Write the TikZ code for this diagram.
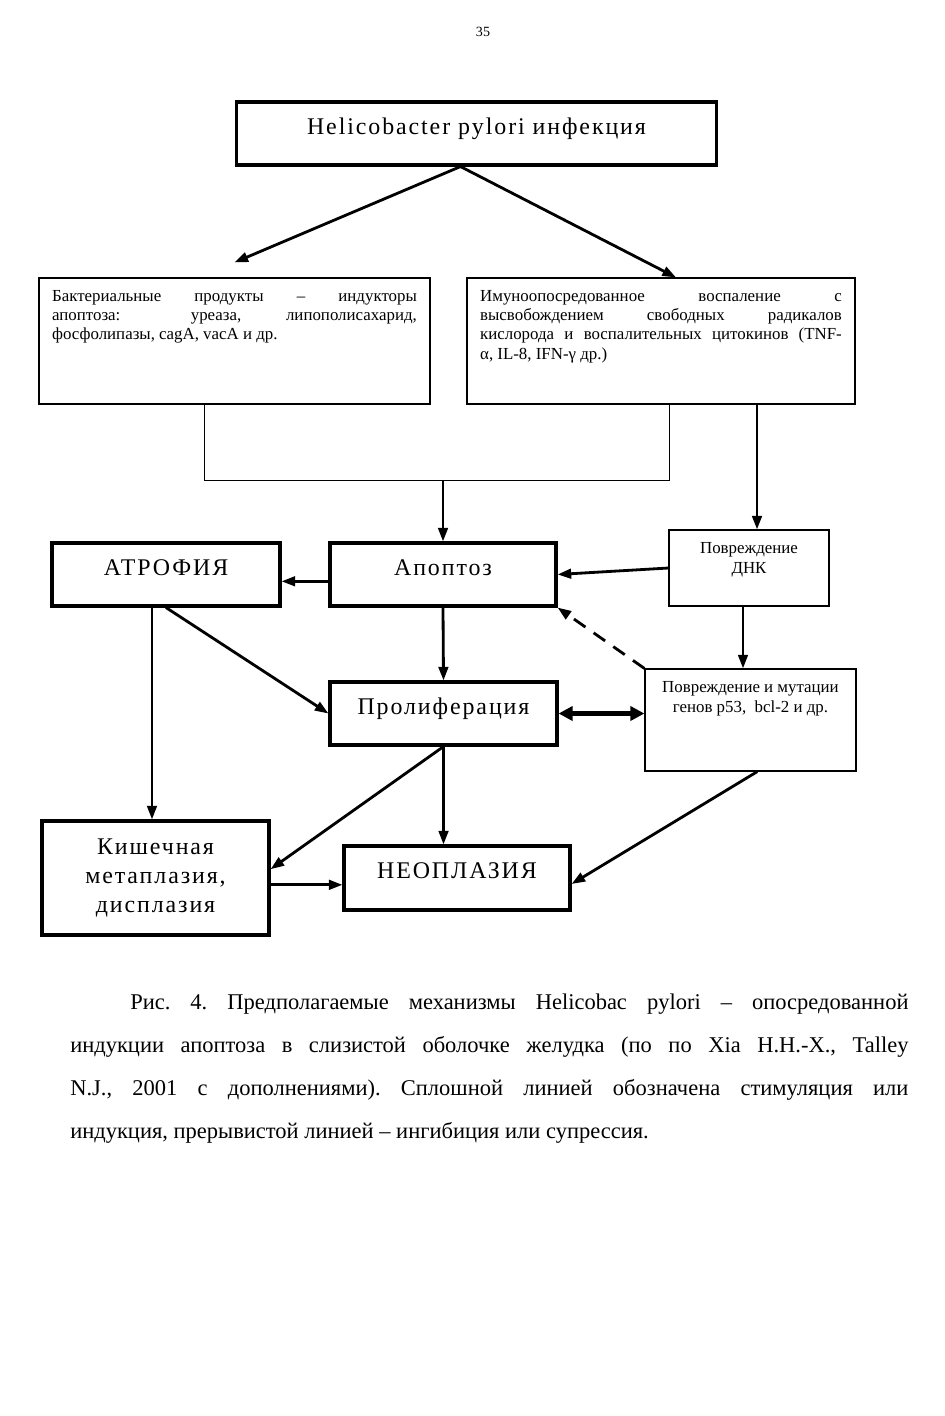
\documentclass[tikz,border=0pt]{standalone}
\usepackage{fontspec}
\setmainfont{Liberation Serif}
\newfontfamily\spacedfont[LetterSpace=8]{Liberation Serif}
\usetikzlibrary{arrows.meta}

\begin{document}
\begin{tikzpicture}[x=0.025cm, y=-0.025cm,
    thickbox/.style = {draw, line width=2.2pt, inner sep=0pt, align=center, font=\spacedfont\fontsize{17}{20.5}\selectfont},
    raised/.style = {text depth=0.35cm},
    thinbox/.style = {draw, line width=0.8pt, inner xsep=0.33cm, inner ysep=0.3cm, font=\fontsize{12}{13.8}\selectfont},
    smallbox/.style = {draw, line width=0.8pt, inner xsep=0pt, inner ysep=0.3cm, font=\fontsize{12}{14.5}\selectfont},
    arr/.style = {line width=2pt, -{Triangle[length=0.34cm, width=0.24cm]}}]
    \useasboundingbox (0,0) rectangle (945,1416);
    \node[font=\fontsize{10}{12}\selectfont] (page) at (483,32) {35};

    % boxes
    \node[thickbox, raised, minimum width=11.975cm, minimum height=1.575cm] (inf) at (476.5,133.5) {Helicobacter pylori инфекция};
    \node[thinbox] (bact) at (234.5,341) {\parbox[t][2.55cm][t]{9.115cm}{Бактериальные продукты – индукторы\linebreak апоптоза: уреаза, липополисахарид,\linebreak фосфолипазы, cagA, vacA и др.}};
    \node[thinbox] (imm) at (661,341) {\parbox[t][2.55cm][t]{9.04cm}{Имуноопосредованное воспаление с\linebreak высвобождением свободных радикалов\linebreak кислорода и воспалительных цитокинов (TNF-\linebreak α, IL-8, IFN-γ др.)}};
    \node[thickbox, raised, minimum width=5.7cm, minimum height=1.575cm] (atr) at (166,574.5) {АТРОФИЯ};
    \node[thickbox, raised, minimum width=5.65cm, minimum height=1.575cm] (apo) at (443,574.5) {Апоптоз};
    \node[smallbox] (dna) at (749,568) {\parbox[t][1.3cm][t]{4cm}{\centering Повреждение\\ДНК}};
    \node[smallbox] (mut) at (750.5,720) {\parbox[t][1.95cm][t]{5.275cm}{\centering Повреждение и мутации\\генов p53,~ bcl-2 и др.}};
    \node[thickbox, raised, minimum width=5.675cm, minimum height=1.575cm] (pro) at (443.5,713.5) {Пролиферация};
    \node[thickbox, minimum width=5.675cm, minimum height=2.85cm] (kish) at (155.5,878) {Кишечная\\метаплазия,\\дисплазия};
    \node[thickbox, raised, minimum width=5.65cm, minimum height=1.6cm] (neo) at (457,878) {НЕОПЛАЗИЯ};

    % connectors
    \coordinate (jl) at (204,480);
    \coordinate (jr) at (669,480);
    \coordinate (jm) at (443,480);
    \draw[arr] ([xshift=-0.4cm]inf.south) -- ([yshift=0.375cm]bact.north);
    \draw[arr] ([xshift=-0.4cm]inf.south) -- ([xshift=0.375cm]imm.north);
    \draw[line width=0.7pt] (bact.south -| jl) -- (jl) -- (jr) -- (imm.south -| jr);
    \draw[arr] (jm) -- (apo.north);
    \draw[arr] ([xshift=2.4cm]imm.south) -- ([xshift=2.4cm]imm.south |- dna.north);
    \draw[arr] (dna.west) -- (apo.east);
    \draw[arr] ([yshift=-0.17cm]apo.west) -- ([yshift=-0.17cm]apo.west -| atr.east);
    \draw[arr] ([xshift=-0.15cm]dna.south) -- ([xshift=-0.15cm]dna.south |- mut.north);
    \draw[arr, dash pattern=on 0.35cm off 0.25cm] (mut.north west) -- (apo.south east);
    \draw[arr] (apo.south) -- (pro.north);
    \draw[arr] (atr.south) -- (pro.west);
    \draw[arr] ([xshift=-0.35cm]atr.south) -- ([xshift=-0.35cm]atr.south |- kish.north);
    \draw[line width=3.5pt, {Triangle[length=0.35cm, width=0.35cm]}-{Triangle[length=0.35cm, width=0.35cm]}] (pro.east) -- (pro.east -| mut.west);
    \draw[arr] (pro.south) -- ([yshift=0.22cm]kish.east);
    \draw[arr] (pro.south) -- (pro.south |- neo.north);
    \draw[arr] ([yshift=-0.17cm]kish.east) -- ([yshift=-0.17cm]kish.east -| neo.west);
    \draw[arr] ([xshift=0.17cm]mut.south) -- ([yshift=-0.15cm]neo.east);

    % caption
    \node[anchor=north west, inner sep=0pt, text width=20.95cm, align=justify, font=\fontsize{16}{30.6}\selectfont] (cap) at (70,994) {\frenchspacing\hspace*{1.5cm}Рис. 4. Предполагаемые механизмы Helicobac pylori – опосредованной\linebreak индукции апоптоза в слизистой оболочке желудка (по по Xia H.H.-X., Talley\linebreak N.J., 2001 с дополнениями). Сплошной линией обозначена стимуляция или\linebreak индукция, прерывистой линией – ингибиция или супрессия.};
\end{tikzpicture}
\end{document}
